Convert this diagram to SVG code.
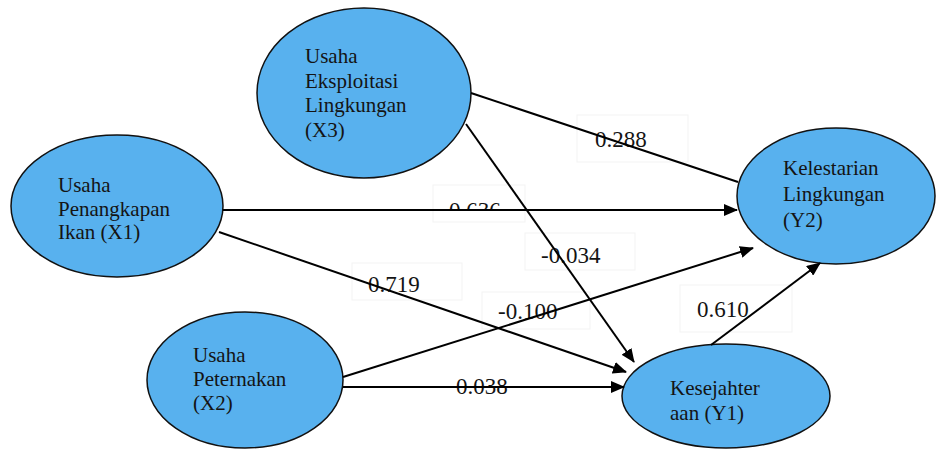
<svg xmlns="http://www.w3.org/2000/svg" width="936" height="450" viewBox="0 0 936 450">
  <style>
    .node { fill: #58B1EE; stroke: #111; stroke-width: 1.5; }
    .nt { font-family: "Liberation Serif", "Times New Roman", serif; font-size: 21px; fill: #141414; }
    .lbl { font-family: "Liberation Serif", "Times New Roman", serif; font-size: 23px; fill: #141414; }
    .box { fill: none; stroke: #f3f3f3; stroke-width: 1; }
    .edge { stroke: #000; stroke-width: 2; fill: none; }
  </style>
  <defs>
    <marker id="arr" markerUnits="userSpaceOnUse" markerWidth="14" markerHeight="12" refX="13" refY="6" orient="auto">
      <path d="M0,0 L14,6 L0,12 Z" fill="#000"/>
    </marker>
    <clipPath id="clip636">
      <rect x="430" y="180" width="100" height="29"/>
    </clipPath>
  </defs>
  <rect width="936" height="450" fill="#fff"/>

  <g id="label-boxes">
    <rect class="box" x="577" y="115" width="111" height="47"/>
    <rect class="box" x="433" y="185" width="92" height="37"/>
    <rect class="box" x="525" y="233" width="110" height="37"/>
    <rect class="box" x="352" y="263" width="110" height="37"/>
    <rect class="box" x="482" y="292" width="108" height="37"/>
    <rect class="box" x="680" y="285" width="112" height="47"/>
  </g>

  <g id="X3">
    <ellipse class="node" cx="364" cy="93" rx="107" ry="85"/>
    <text class="nt" x="305" y="63">Usaha</text>
    <text class="nt" x="305" y="88">Eksploitasi</text>
    <text class="nt" x="305" y="112">Lingkungan</text>
    <text class="nt" x="305" y="137">(X3)</text>
  </g>
  <g id="X1">
    <ellipse class="node" cx="117" cy="206" rx="106" ry="71"/>
    <text class="nt" x="58" y="192">Usaha</text>
    <text class="nt" x="58" y="215.5">Penangkapan</text>
    <text class="nt" x="58" y="239">Ikan (X1)</text>
  </g>
  <g id="X2">
    <ellipse class="node" cx="245" cy="380" rx="98" ry="68"/>
    <text class="nt" x="193" y="362">Usaha</text>
    <text class="nt" x="193" y="386">Peternakan</text>
    <text class="nt" x="193" y="410">(X2)</text>
  </g>
  <g id="Y1">
    <ellipse class="node" cx="726" cy="396" rx="104" ry="52"/>
    <text class="nt" x="670" y="395">Kesejahter</text>
    <text class="nt" x="670" y="420">aan (Y1)</text>
  </g>
  <g id="Y2">
    <ellipse class="node" cx="836" cy="196" rx="99" ry="68"/>
    <text class="nt" x="783" y="175">Kelestarian</text>
    <text class="nt" x="783" y="201">Lingkungan</text>
    <text class="nt" x="783" y="227">(Y2)</text>
  </g>

  <g id="labels">
    <text class="lbl" x="595" y="147">0.288</text>
    <text class="lbl" x="449" y="218" clip-path="url(#clip636)">0.636</text>
    <text class="lbl" x="541" y="263">-0.034</text>
    <text class="lbl" x="368" y="292">0.719</text>
    <text class="lbl" x="498" y="319">-0.100</text>
    <text class="lbl" x="697" y="317">0.610</text>
    <text class="lbl" x="456" y="394">0.038</text>
  </g>

  <g id="connectors">
    <line class="edge" x1="471" y1="93" x2="738" y2="182"/>
    <line class="edge" x1="466" y1="124" x2="634" y2="362" marker-end="url(#arr)"/>
    <line class="edge" x1="223" y1="210" x2="737" y2="210" marker-end="url(#arr)"/>
    <line class="edge" x1="219" y1="232" x2="626" y2="372" marker-end="url(#arr)"/>
    <line class="edge" x1="343" y1="377" x2="753" y2="248" marker-end="url(#arr)"/>
    <line class="edge" x1="343" y1="387" x2="624" y2="387" marker-end="url(#arr)"/>
    <line class="edge" x1="711" y1="345" x2="820" y2="263" marker-end="url(#arr)"/>
  </g>
</svg>
